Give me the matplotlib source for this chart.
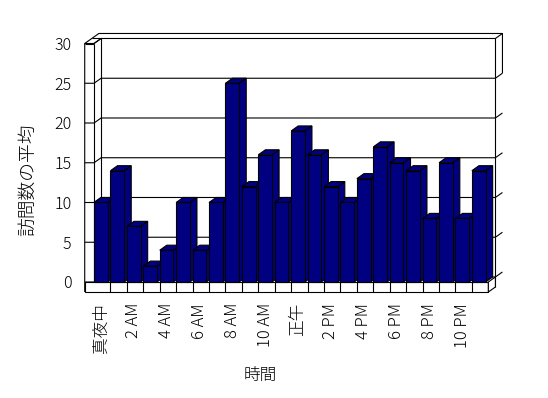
import matplotlib
matplotlib.use("Agg")
import matplotlib.pyplot as plt
from matplotlib.patches import Polygon

plt.rcParams['font.family'] = ['Noto Sans CJK JP', 'DejaVu Sans']
plt.rcParams['font.weight'] = 'light'

# data
hours = list(range(24))
visits = [10, 14, 7, 2, 4, 10, 4, 10, 25, 12, 16, 10,
          19, 16, 12, 10, 13, 17, 15, 14, 8, 15, 8, 14]
tick_labels = ['真夜中', '2 AM', '4 AM', '6 AM', '8 AM', '10 AM',
               '正午', '2 PM', '4 PM', '6 PM', '8 PM', '10 PM']
y_ticks = [0, 5, 10, 15, 20, 25, 30]

navy = '#000080'
lw = 0.8
w = 0.834          # bar front width (category units)
dx, dv = 0.43, 0.63  # oblique depth offset (x units, value units)
wall = 0.567       # left wall thickness
floor_h = 1.26     # floor slab thickness
n = len(hours)
top = 30

fig = plt.figure(figsize=(5.48, 3.98), dpi=100)
ax = fig.add_axes([0.1546, 0.2663, 0.7365, 0.6244])
ax.set_xlim(-wall, n)
ax.set_ylim(-floor_h, top)
for s in ax.spines.values():
    s.set_visible(False)


def line(xs, ys, z=1):
    ax.plot(xs, ys, color='black', lw=lw, zorder=z, clip_on=False,
            solid_capstyle='butt')


# back wall gridlines, wrapping around left and right wall thickness
for v in y_ticks:
    line([-wall, 0, dx, n + dx, n + 2 * dx],
         [v, v, v + dv, v + dv, v + 2 * dv])

# frame outline
line([-wall, -wall, -wall + dx, -wall + 2 * dx, n + 2 * dx, n + 2 * dx],
     [-floor_h, top, top + dv, top + 2 * dv, top + 2 * dv, 25 + 2 * dv])
line([-wall, 0], [top, top])
line([0, 0], [0, top])
line([0, dx], [top, top + dv])
line([-wall + dx, dx], [top + dv, top + dv])
line([dx, dx], [dv, top + dv])
line([n + dx, n + dx], [-floor_h + dv, top + dv])

# floor slab front face with category dividers
ax.add_patch(Polygon([(-wall, -floor_h), (n, -floor_h), (n, 0), (-wall, 0)],
                     closed=True, facecolor='white', edgecolor='black',
                     lw=lw, zorder=2, clip_on=False))
ax.add_patch(Polygon([(n, -floor_h), (n + dx, -floor_h + dv), (n + dx, dv), (n, 0)],
                     closed=True, facecolor='white', edgecolor='black',
                     lw=lw, zorder=2, clip_on=False))
for i in range(1, n):
    line([i, i], [-floor_h, 0], z=2)

# bars: front faces via ax.bar, side/top faces from the same values
bars = ax.bar(hours, visits, width=w, align='edge', color=navy,
              edgecolor='black', linewidth=lw)
for i, (h, v) in enumerate(zip(hours, visits)):
    z = 3 + 0.1 * i
    side = [(h + w, 0), (h + w + dx, dv), (h + w + dx, v + dv), (h + w, v)]
    cap = [(h, v), (h + dx, v + dv), (h + w + dx, v + dv), (h + w, v)]
    for pts in (side, cap):
        ax.add_patch(Polygon(pts, closed=True, facecolor=navy,
                             edgecolor='black', lw=lw, zorder=z,
                             clip_on=False))
    bars.patches[i].set_zorder(z + 0.05)
    bars.patches[i].set_clip_on(False)

ax.set_yticks(y_ticks)
ax.set_yticklabels([str(t) for t in y_ticks], fontsize=11.5)
ax.set_xticks([h + w / 2 for h in hours[::2]])
ax.set_xticklabels(tick_labels, rotation=90, fontsize=12, va='top')
ax.tick_params(axis='y', length=0, pad=9.5)
ax.tick_params(axis='x', length=0, pad=8)

fig.text(260 / 548, 1 - 375 / 398, '時間', fontsize=12, ha='center', va='center')
fig.text(28 / 548, 1 - 180 / 398, '訪問数の平均', fontsize=13.5, rotation=90,
         ha='center', va='center')

fig.savefig('out.png', dpi=100)
